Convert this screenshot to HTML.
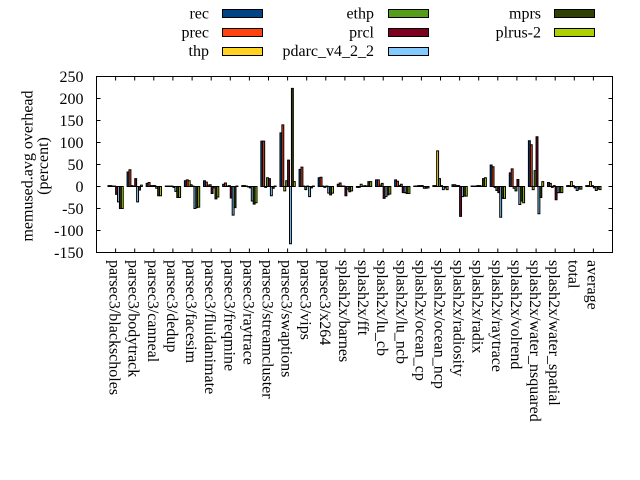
<!DOCTYPE html>
<html>
<head>
<meta charset="utf-8">
<style>
html,body{margin:0;padding:0;background:#fff;}
svg{display:block;}
text{font-family:"Liberation Serif",serif;font-size:16px;fill:#000;}
.b rect{vector-effect:non-scaling-stroke;stroke:#000;stroke-width:1;}
</style>
</head>
<body>
<svg width="640" height="480" viewBox="0 0 640 480" xmlns="http://www.w3.org/2000/svg">
<rect x="0" y="0" width="640" height="480" fill="#fff"/>

<!-- legend -->
<g text-anchor="end">
<text x="209" y="18.5">rec</text>
<text x="209" y="37.5">prec</text>
<text x="209" y="56">thp</text>
<text x="374" y="18.5">ethp</text>
<text x="374" y="37.5">prcl</text>
<text x="374" y="56">pdarc_v4_2_2</text>
<text x="541" y="18.5">mprs</text>
<text x="541" y="37.5">plrus-2</text>
</g>
<g stroke="#000" stroke-width="1">
<rect x="222.5" y="9.5" width="40" height="8" fill="#004586"/>
<rect x="222.5" y="28.5" width="40" height="8" fill="#ff420e"/>
<rect x="222.5" y="47.5" width="40" height="8" fill="#ffd320"/>
<rect x="388.5" y="9.5" width="40" height="8" fill="#579d1c"/>
<rect x="388.5" y="28.5" width="40" height="8" fill="#7e0021"/>
<rect x="388.5" y="47.5" width="40" height="8" fill="#83caff"/>
<rect x="554.5" y="9.5" width="40" height="8" fill="#314004"/>
<rect x="554.5" y="28.5" width="40" height="8" fill="#aecf00"/>
</g>

<!-- y axis title -->
<text transform="translate(32.5,166) rotate(-90)" text-anchor="middle">memused.avg overhead</text>
<text transform="translate(48,166) rotate(-90)" text-anchor="middle">(percent)</text>

<!-- y tick labels -->
<g text-anchor="end">
<text x="83.5" y="82">250</text>
<text x="83.5" y="104">200</text>
<text x="83.5" y="126">150</text>
<text x="83.5" y="148">100</text>
<text x="83.5" y="170">50</text>
<text x="83.5" y="192">0</text>
<text x="83.5" y="214">-50</text>
<text x="83.5" y="236">-100</text>
<text x="83.5" y="258">-150</text>
</g>

<!-- bars -->
<g class="b" transform="translate(115.61,186.5) scale(19.111,-0.44)">
<g fill="#004586" transform="translate(-0.4,0)">
<rect x="0" y="0" width=".1" height="2"/><rect x="1" y="0" width=".1" height="33"/><rect x="2" y="0" width=".1" height="7"/><rect x="3" y="0" width=".1" height="1"/><rect x="4" y="0" width=".1" height="13"/><rect x="5" y="0" width=".1" height="13"/><rect x="6" y="0" width=".1" height="5"/><rect x="7" y="0" width=".1" height="2"/><rect x="8" y="0" width=".1" height="103"/><rect x="9" y="0" width=".1" height="122"/><rect x="10" y="0" width=".1" height="39"/><rect x="11" y="0" width=".1" height="20"/><rect x="12" y="0" width=".1" height="5"/><rect x="13" y="-2" width=".1" height="2"/><rect x="14" y="0" width=".1" height="15"/><rect x="15" y="0" width=".1" height="15"/><rect x="16" y="0" width=".1" height="1"/><rect x="17" y="0" width=".1" height="2"/><rect x="18" y="0" width=".1" height="4"/><rect x="19" y="0" width=".1" height="1"/><rect x="20" y="0" width=".1" height="49"/><rect x="21" y="0" width=".1" height="31"/><rect x="22" y="0" width=".1" height="104"/><rect x="23" y="0" width=".1" height="9"/><rect x="24" y="0" width=".1" height="2"/><rect x="25" y="0" width=".1" height="2"/>
</g>
<g fill="#ff420e" transform="translate(-0.3,0)">
<rect x="0" y="0" width=".1" height="2"/><rect x="1" y="0" width=".1" height="38"/><rect x="2" y="0" width=".1" height="9"/><rect x="3" y="0" width=".1" height="1"/><rect x="4" y="0" width=".1" height="15"/><rect x="5" y="0" width=".1" height="10"/><rect x="6" y="0" width=".1" height="8"/><rect x="7" y="0" width=".1" height="2"/><rect x="8" y="0" width=".1" height="103"/><rect x="9" y="0" width=".1" height="140"/><rect x="10" y="0" width=".1" height="44"/><rect x="11" y="0" width=".1" height="21"/><rect x="12" y="0" width=".1" height="8"/><rect x="13" y="-2" width=".1" height="2"/><rect x="14" y="0" width=".1" height="15"/><rect x="15" y="0" width=".1" height="12"/><rect x="16" y="0" width=".1" height="1"/><rect x="17" y="0" width=".1" height="2"/><rect x="18" y="0" width=".1" height="4"/><rect x="19" y="0" width=".1" height="1"/><rect x="20" y="0" width=".1" height="45"/><rect x="21" y="0" width=".1" height="40"/><rect x="22" y="0" width=".1" height="95"/><rect x="23" y="0" width=".1" height="7"/><rect x="24" y="0" width=".1" height="2"/><rect x="25" y="0" width=".1" height="2"/>
</g>
<g fill="#ffd320" transform="translate(-0.2,0)">
<rect x="0" y="0" width=".1" height="1"/><rect x="1" y="0" width=".1" height="2"/><rect x="2" y="0" width=".1" height="2"/><rect x="3" y="0" width=".1" height="1"/><rect x="4" y="0" width=".1" height="13"/><rect x="5" y="0" width=".1" height="3"/><rect x="6" y="0" width=".1" height="1"/><rect x="7" y="0" width=".1" height="1"/><rect x="8" y="-2" width=".1" height="2"/><rect x="9" y="-10" width=".1" height="10"/><rect x="10" y="0" width=".1" height="1"/><rect x="11" y="0" width=".1" height="1"/><rect x="12" y="0" width=".1" height="1"/><rect x="13" y="0" width=".1" height="5"/><rect x="14" y="0" width=".1" height="3"/><rect x="15" y="0" width=".1" height="2"/><rect x="16" y="0" width=".1" height="2"/><rect x="17" y="0" width=".1" height="81"/><rect x="18" y="0" width=".1" height="2"/><rect x="19" y="0" width=".1" height="1"/><rect x="20" y="-2" width=".1" height="2"/><rect x="21" y="-4" width=".1" height="4"/><rect x="22" y="-7" width=".1" height="7"/><rect x="23" y="-2" width=".1" height="2"/><rect x="24" y="0" width=".1" height="11"/><rect x="25" y="0" width=".1" height="11"/>
</g>
<g fill="#579d1c" transform="translate(-0.1,0)">
<rect x="0" y="0" width=".1" height="1"/><rect x="1" y="0" width=".1" height="1"/><rect x="2" y="0" width=".1" height="2"/><rect x="3" y="0" width=".1" height="1"/><rect x="4" y="0" width=".1" height="4"/><rect x="5" y="0" width=".1" height="4"/><rect x="6" y="0" width=".1" height="2"/><rect x="7" y="-1" width=".1" height="1"/><rect x="8" y="0" width=".1" height="20"/><rect x="9" y="0" width=".1" height="13"/><rect x="10" y="-7" width=".1" height="7"/><rect x="11" y="-2" width=".1" height="2"/><rect x="12" y="0" width=".1" height="1"/><rect x="13" y="0" width=".1" height="1"/><rect x="14" y="0" width=".1" height="7"/><rect x="15" y="0" width=".1" height="5"/><rect x="16" y="0" width=".1" height="2"/><rect x="17" y="0" width=".1" height="18"/><rect x="18" y="0" width=".1" height="2"/><rect x="19" y="0" width=".1" height="2"/><rect x="20" y="-9" width=".1" height="9"/><rect x="21" y="-10" width=".1" height="10"/><rect x="22" y="0" width=".1" height="36"/><rect x="23" y="0" width=".1" height="2"/><rect x="24" y="0" width=".1" height="2"/><rect x="25" y="0" width=".1" height="2"/>
</g>
<g fill="#7e0021">
<rect x="0" y="-18" width=".1" height="18"/><rect x="1" y="0" width=".1" height="18"/><rect x="2" y="0" width=".1" height="2"/><rect x="3" y="-2" width=".1" height="2"/><rect x="4" y="0" width=".1" height="1"/><rect x="5" y="-16" width=".1" height="16"/><rect x="6" y="-26" width=".1" height="26"/><rect x="7" y="-3" width=".1" height="3"/><rect x="8" y="0" width=".1" height="18"/><rect x="9" y="0" width=".1" height="60"/><rect x="10" y="0" width=".1" height="1"/><rect x="11" y="0" width=".1" height="1"/><rect x="12" y="-21" width=".1" height="21"/><rect x="13" y="0" width=".1" height="2"/><rect x="14" y="-27" width=".1" height="27"/><rect x="15" y="-14" width=".1" height="14"/><rect x="16" y="0" width=".1" height="2"/><rect x="17" y="0" width=".1" height="2"/><rect x="18" y="-68" width=".1" height="68"/><rect x="19" y="0" width=".1" height="2"/><rect x="20" y="-14" width=".1" height="14"/><rect x="21" y="0" width=".1" height="16"/><rect x="22" y="0" width=".1" height="113"/><rect x="23" y="-30" width=".1" height="30"/><rect x="24" y="-3" width=".1" height="3"/><rect x="25" y="-3" width=".1" height="3"/>
</g>
<g fill="#83caff" transform="translate(0.1,0)">
<rect x="0" y="-35" width=".1" height="35"/><rect x="1" y="-35" width=".1" height="35"/><rect x="2" y="-4" width=".1" height="4"/><rect x="3" y="-11" width=".1" height="11"/><rect x="4" y="-50" width=".1" height="50"/><rect x="5" y="-3" width=".1" height="3"/><rect x="6" y="-65" width=".1" height="65"/><rect x="7" y="-33" width=".1" height="33"/><rect x="8" y="-21" width=".1" height="21"/><rect x="9" y="-130" width=".1" height="130"/><rect x="10" y="-23" width=".1" height="23"/><rect x="11" y="-15" width=".1" height="15"/><rect x="12" y="-6" width=".1" height="6"/><rect x="13" y="0" width=".1" height="1"/><rect x="14" y="-23" width=".1" height="23"/><rect x="15" y="-14" width=".1" height="14"/><rect x="16" y="-4" width=".1" height="4"/><rect x="17" y="-7" width=".1" height="7"/><rect x="18" y="-23" width=".1" height="23"/><rect x="19" y="0" width=".1" height="1"/><rect x="20" y="-70" width=".1" height="70"/><rect x="21" y="-41" width=".1" height="41"/><rect x="22" y="-62" width=".1" height="62"/><rect x="23" y="-14" width=".1" height="14"/><rect x="24" y="-9" width=".1" height="9"/><rect x="25" y="-9" width=".1" height="9"/>
</g>
<g fill="#314004" transform="translate(0.2,0)">
<rect x="0" y="-50" width=".1" height="50"/><rect x="1" y="-8" width=".1" height="8"/><rect x="2" y="-21" width=".1" height="21"/><rect x="3" y="-25" width=".1" height="25"/><rect x="4" y="-48" width=".1" height="48"/><rect x="5" y="-28" width=".1" height="28"/><rect x="6" y="-48" width=".1" height="48"/><rect x="7" y="-40" width=".1" height="40"/><rect x="8" y="-4" width=".1" height="4"/><rect x="9" y="0" width=".1" height="223"/><rect x="10" y="-3" width=".1" height="3"/><rect x="11" y="-19" width=".1" height="19"/><rect x="12" y="-12" width=".1" height="12"/><rect x="13" y="0" width=".1" height="11"/><rect x="14" y="-19" width=".1" height="19"/><rect x="15" y="-16" width=".1" height="16"/><rect x="16" y="-4" width=".1" height="4"/><rect x="17" y="-3" width=".1" height="3"/><rect x="18" y="-22" width=".1" height="22"/><rect x="19" y="0" width=".1" height="18"/><rect x="20" y="-27" width=".1" height="27"/><rect x="21" y="-33" width=".1" height="33"/><rect x="22" y="-25" width=".1" height="25"/><rect x="23" y="-14" width=".1" height="14"/><rect x="24" y="-6" width=".1" height="6"/><rect x="25" y="-6" width=".1" height="6"/>
</g>
<g fill="#aecf00" transform="translate(0.3,0)">
<rect x="0" y="-50" width=".1" height="50"/><rect x="1" y="0" width=".1" height="3"/><rect x="2" y="-21" width=".1" height="21"/><rect x="3" y="-25" width=".1" height="25"/><rect x="4" y="-47" width=".1" height="47"/><rect x="5" y="-24" width=".1" height="24"/><rect x="6" y="0" width=".1" height="1"/><rect x="7" y="-37" width=".1" height="37"/><rect x="8" y="0" width=".1" height="1"/><rect x="9" y="0" width=".1" height="11"/><rect x="10" y="0" width=".1" height="1"/><rect x="11" y="-15" width=".1" height="15"/><rect x="12" y="-10" width=".1" height="10"/><rect x="13" y="0" width=".1" height="11"/><rect x="14" y="-17" width=".1" height="17"/><rect x="15" y="-16" width=".1" height="16"/><rect x="16" y="-3" width=".1" height="3"/><rect x="17" y="-7" width=".1" height="7"/><rect x="18" y="-22" width=".1" height="22"/><rect x="19" y="0" width=".1" height="20"/><rect x="20" y="-27" width=".1" height="27"/><rect x="21" y="-37" width=".1" height="37"/><rect x="22" y="0" width=".1" height="11"/><rect x="23" y="-14" width=".1" height="14"/><rect x="24" y="-6" width=".1" height="6"/><rect x="25" y="-7" width=".1" height="7"/>
</g>
</g>

<!-- axes border and ticks -->
<g stroke="#000" stroke-width="1" fill="none">
<rect x="96.5" y="76.5" width="516" height="176"/>
<path d="M96.5 98.5h4M96.5 120.5h4M96.5 142.5h4M96.5 164.5h4M96.5 186.5h4M96.5 208.5h4M96.5 230.5h4
M612.5 98.5h-4M612.5 120.5h-4M612.5 142.5h-4M612.5 164.5h-4M612.5 186.5h-4M612.5 208.5h-4M612.5 230.5h-4"/>
<path d="M115.6 252.5v-4M134.7 252.5v-4M153.8 252.5v-4M172.9 252.5v-4M192.1 252.5v-4M211.2 252.5v-4M230.3 252.5v-4M249.4 252.5v-4M268.5 252.5v-4M287.6 252.5v-4M306.7 252.5v-4M325.8 252.5v-4M344.9 252.5v-4M364.1 252.5v-4M383.2 252.5v-4M402.3 252.5v-4M421.4 252.5v-4M440.5 252.5v-4M459.6 252.5v-4M478.7 252.5v-4M497.8 252.5v-4M516.9 252.5v-4M536.1 252.5v-4M555.2 252.5v-4M574.3 252.5v-4M593.4 252.5v-4
M115.6 76.5v4M134.7 76.5v4M153.8 76.5v4M172.9 76.5v4M192.1 76.5v4M211.2 76.5v4M230.3 76.5v4M249.4 76.5v4M268.5 76.5v4M287.6 76.5v4M306.7 76.5v4M325.8 76.5v4M344.9 76.5v4M364.1 76.5v4M383.2 76.5v4M402.3 76.5v4M421.4 76.5v4M440.5 76.5v4M459.6 76.5v4M478.7 76.5v4M497.8 76.5v4M516.9 76.5v4M536.1 76.5v4M555.2 76.5v4M574.3 76.5v4M593.4 76.5v4"/>
</g>

<!-- x tick labels -->
<g>
<text transform="translate(115.6,260) rotate(90)" y="6">parsec3/blackscholes</text>
<text transform="translate(134.7,260) rotate(90)" y="6">parsec3/bodytrack</text>
<text transform="translate(153.8,260) rotate(90)" y="6">parsec3/canneal</text>
<text transform="translate(172.9,260) rotate(90)" y="6">parsec3/dedup</text>
<text transform="translate(192.1,260) rotate(90)" y="6">parsec3/facesim</text>
<text transform="translate(211.2,260) rotate(90)" y="6">parsec3/fluidanimate</text>
<text transform="translate(230.3,260) rotate(90)" y="6">parsec3/freqmine</text>
<text transform="translate(249.4,260) rotate(90)" y="6">parsec3/raytrace</text>
<text transform="translate(268.5,260) rotate(90)" y="6">parsec3/streamcluster</text>
<text transform="translate(287.6,260) rotate(90)" y="6">parsec3/swaptions</text>
<text transform="translate(306.7,260) rotate(90)" y="6">parsec3/vips</text>
<text transform="translate(325.8,260) rotate(90)" y="6">parsec3/x264</text>
<text transform="translate(344.9,260) rotate(90)" y="6">splash2x/barnes</text>
<text transform="translate(364.1,260) rotate(90)" y="6">splash2x/fft</text>
<text transform="translate(383.2,260) rotate(90)" y="6">splash2x/lu_cb</text>
<text transform="translate(402.3,260) rotate(90)" y="6">splash2x/lu_ncb</text>
<text transform="translate(421.4,260) rotate(90)" y="6">splash2x/ocean_cp</text>
<text transform="translate(440.5,260) rotate(90)" y="6">splash2x/ocean_ncp</text>
<text transform="translate(459.6,260) rotate(90)" y="6">splash2x/radiosity</text>
<text transform="translate(478.7,260) rotate(90)" y="6">splash2x/radix</text>
<text transform="translate(497.8,260) rotate(90)" y="6">splash2x/raytrace</text>
<text transform="translate(516.9,260) rotate(90)" y="6">splash2x/volrend</text>
<text transform="translate(536.1,260) rotate(90)" y="6">splash2x/water_nsquared</text>
<text transform="translate(555.2,260) rotate(90)" y="6">splash2x/water_spatial</text>
<text transform="translate(574.3,260) rotate(90)" y="6">total</text>
<text transform="translate(593.4,260) rotate(90)" y="6">average</text>
</g>
</svg>
</body>
</html>
